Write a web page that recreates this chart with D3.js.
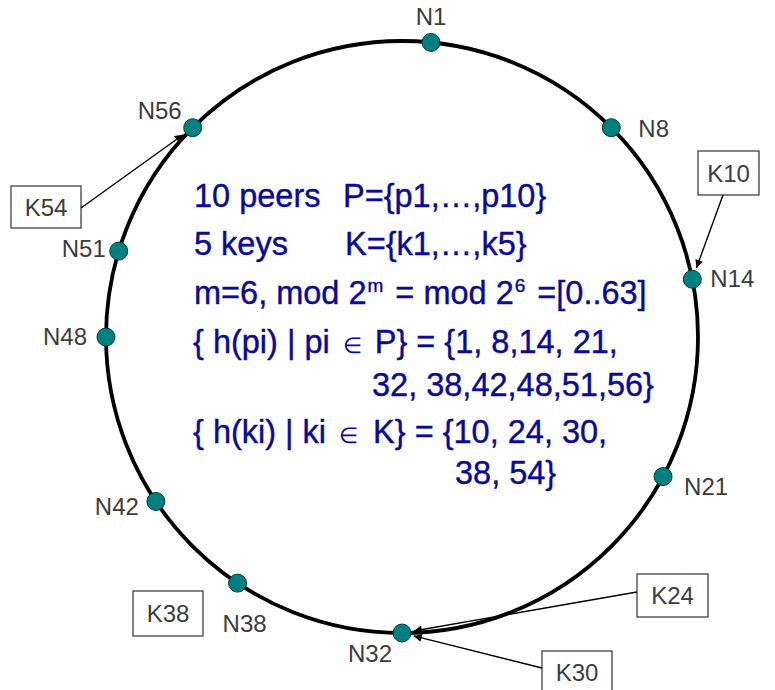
<!doctype html>
<html>
<head>
<script src="https://cdnjs.cloudflare.com/ajax/libs/d3/7.8.5/d3.min.js"></script>
<style>
  body { margin: 0; background: #fff; }
  svg { display: block; font-family: "Liberation Sans", Arial, sans-serif; }
</style>
</head>
<body>
<svg width="775" height="690"></svg>
<script>
// identifier ring, m = 6
var ringSize = 64;
var peers = [1, 8, 14, 21, 32, 38, 42, 48, 51, 56];
var keys = [10, 24, 30, 38, 54];

var svg = d3.select("svg"),
    cx = 402, cy = 337, r = 296;

var angle = d3.scaleLinear().domain([0, ringSize]).range([0, 2 * Math.PI]);

function pos(id) {
  var a = angle(id);
  return [cx + r * Math.sin(a), cy - r * Math.cos(a)];
}

// successor of a key on the ring
function successor(k) {
  var s = peers.find(function (p) { return p >= k; });
  return s === undefined ? peers[0] : s;
}

svg.append("defs").append("marker")
  .attr("id", "arr")
  .attr("viewBox", "0 0 10 10")
  .attr("refX", 10).attr("refY", 5)
  .attr("markerWidth", 13).attr("markerHeight", 8)
  .attr("markerUnits", "userSpaceOnUse")
  .attr("orient", "auto")
  .append("path").attr("d", "M0,0 L10,5 L0,10 z").attr("fill", "#000");

svg.append("circle")
  .attr("cx", cx).attr("cy", cy).attr("r", r)
  .attr("fill", "none").attr("stroke", "#000").attr("stroke-width", 3.8);

// label placement relative to each node
var labelOff = {
  1: [0, -17, "middle"], 8: [27, 9, "start"], 14: [18, 8, "start"],
  21: [21, 18, "start"], 32: [-10, 29, "end"], 38: [-15, 49, "start"],
  42: [-17, 14, "end"], 48: [-19, 8, "end"], 51: [-13, 6, "end"],
  56: [-11, -9, "end"]
};

var nodes = svg.append("g").selectAll("g").data(peers).enter().append("g")
  .attr("transform", function (d) { return "translate(" + pos(d) + ")"; });

nodes.append("circle").attr("r", 9)
  .attr("fill", "#008080").attr("stroke", "#003c3c").attr("stroke-width", 1);

nodes.append("text")
  .attr("x", function (d) { return labelOff[d][0]; })
  .attr("y", function (d) { return labelOff[d][1]; })
  .attr("text-anchor", function (d) { return labelOff[d][2]; })
  .attr("font-size", 24).attr("fill", "#3c3c3c")
  .text(function (d) { return "N" + d; });

// key boxes: x, y, w, h, arrow start
var boxes = {
  54: [11, 186, 70, 42, [81, 208]],
  10: [698, 151, 61, 44, [723, 195]],
  38: [133, 591, 70, 45, null],
  24: [637, 574, 71, 43, [637, 592]],
  30: [542, 651, 70, 43, [542, 668]]
};

var kg = svg.append("g").selectAll("g").data(keys).enter().append("g");

kg.append("rect")
  .attr("x", function (d) { return boxes[d][0]; })
  .attr("y", function (d) { return boxes[d][1]; })
  .attr("width", function (d) { return boxes[d][2]; })
  .attr("height", function (d) { return boxes[d][3]; })
  .attr("fill", "#fff").attr("stroke", "#333").attr("stroke-width", 1.2);

kg.append("text")
  .attr("x", function (d) { return boxes[d][0] + boxes[d][2] / 2; })
  .attr("y", function (d) { return boxes[d][1] + boxes[d][3] / 2 + 8.5; })
  .attr("text-anchor", "middle")
  .attr("font-size", 24).attr("fill", "#3c3c3c")
  .text(function (d) { return "K" + d; });

kg.filter(function (d) { return boxes[d][4]; })
  .append("line")
  .each(function (d) {
    var s = boxes[d][4], t = pos(successor(d));
    var dx = t[0] - s[0], dy = t[1] - s[1], len = Math.hypot(dx, dy);
    var gap = 12;
    d3.select(this)
      .attr("x1", s[0]).attr("y1", s[1])
      .attr("x2", t[0] - dx / len * gap).attr("y2", t[1] - dy / len * gap);
  })
  .attr("stroke", "#000").attr("stroke-width", 1.4)
  .attr("marker-end", "url(#arr)");

// description text: baseline, then segments [text, x (optional), kind, dx]
var descLines = [
  [207, [["10 peers", 194], ["P={p1,…,p" + peers.length + "}", 343]]],
  [255, [["5 keys", 194], ["K={k1,…,k" + keys.length + "}", 345]]],
  [304, [["m=6, mod 2", 194], ["m", null, "sup", 1], [" = mod 2", null, null, 3], ["6", null, "sup", 1],
         [" =[0.." + (ringSize - 1) + "]", null, null, 3]]],
  [353, [["{ h(pi) | pi ", 193], ["∈", null, "sym", 4],
         [" P} = {" + peers.slice(0, 2).join(", ") + "," + peers.slice(2, 4).join(", ") + ",", null, null, 4]]],
  [396, [["32, 38,42,48,51,56}", 372]]],
  [443, [["{ h(ki) | ki ", 193], ["∈", null, "sym", 4],
         [" K} = {" + keys.slice(0, 3).join(", ") + ",", null, null, 6]]],
  [484, [["38, 54}", 455]]]
];

var blue = "#0a0a96";
var tg = svg.append("g").attr("fill", blue).attr("font-size", 32.5)
  .attr("stroke", blue).attr("stroke-width", 0.4)
  .style("white-space", "pre");

descLines.forEach(function (ln) {
  var t = tg.append("text").attr("y", ln[0]).attr("xml:space", "preserve");
  ln[1].forEach(function (s) {
    var ts = t.append("tspan").attr("y", ln[0]).text(s[0]);
    if (s[1] != null) ts.attr("x", s[1]);
    if (s[3]) ts.attr("dx", s[3]);
    if (s[2] === "sup") ts.attr("font-size", 19).attr("y", ln[0] - 12);
    if (s[2] === "sym") ts.attr("font-size", 22).attr("stroke-width", 0);
  });
});
</script>
</body>
</html>
